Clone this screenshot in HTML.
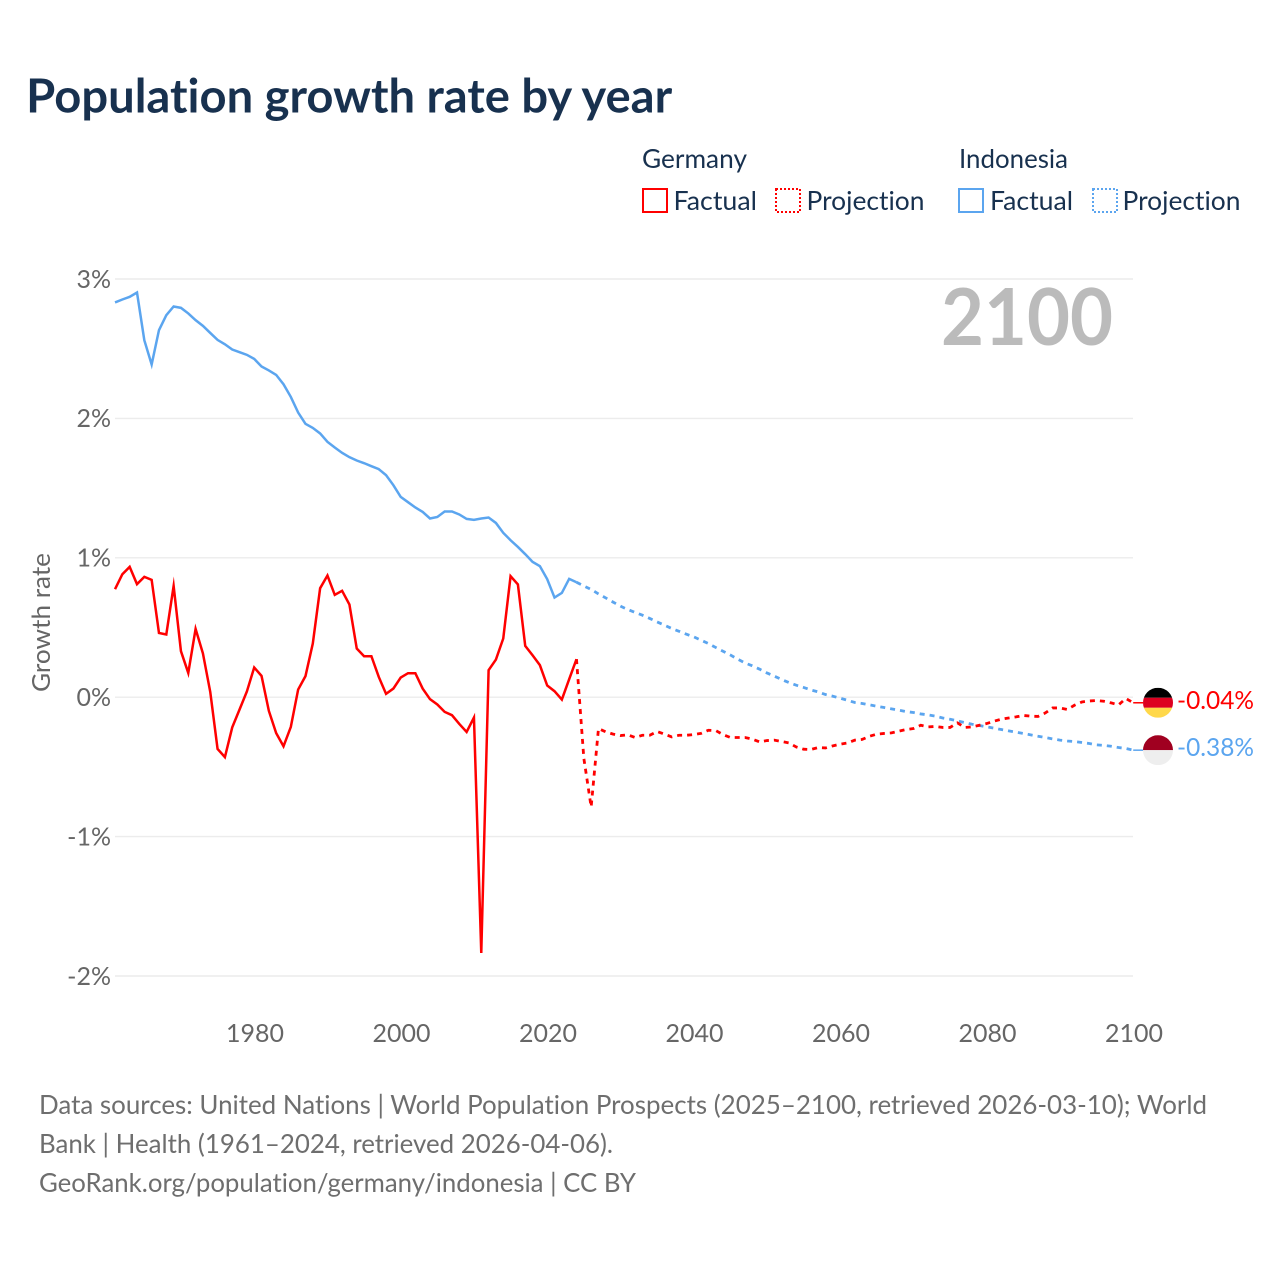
<!DOCTYPE html>
<html lang="en">
<head>
<meta charset="utf-8">
<title>Population growth rate by year</title>
<style>
html,body{margin:0;padding:0;background:#fff;width:1280px;height:1280px;overflow:hidden}
svg{display:block}
text{font-family:"Lato","Carlito","Liberation Sans",sans-serif;font-variant-ligatures:none}
</style>
</head>
<body>
<svg id="chart" xmlns="http://www.w3.org/2000/svg" width="1280" height="1280" viewBox="0 0 1280 1280">
  <rect x="0" y="0" width="1280" height="1280" fill="#ffffff"/>
  <text x="26.2" y="112.5" font-size="47" font-weight="700" fill="#18314f" textLength="646" lengthAdjust="spacingAndGlyphs">Population growth rate by year</text>

  <g font-size="26" fill="#18314f">
    <text x="642" y="168" textLength="105" lengthAdjust="spacingAndGlyphs">Germany</text>
    <text x="959" y="168" textLength="109" lengthAdjust="spacingAndGlyphs">Indonesia</text>
    <rect x="643" y="189" width="24" height="23" fill="none" stroke="#ff0000" stroke-width="2"/>
    <text x="673.5" y="210" textLength="83.5" lengthAdjust="spacingAndGlyphs">Factual</text>
    <rect x="776" y="189" width="24" height="23" fill="none" stroke="#ff0000" stroke-width="2" stroke-dasharray="2 2"/>
    <text x="806.5" y="210" textLength="118" lengthAdjust="spacingAndGlyphs">Projection</text>
    <rect x="959" y="189" width="24" height="23" fill="none" stroke="#5ba5ef" stroke-width="2"/>
    <text x="990" y="210" textLength="83" lengthAdjust="spacingAndGlyphs">Factual</text>
    <rect x="1093" y="189" width="24" height="23" fill="none" stroke="#5ba5ef" stroke-width="2" stroke-dasharray="2 2"/>
    <text x="1122.5" y="210" textLength="118" lengthAdjust="spacingAndGlyphs">Projection</text>
  </g>

  <g id="grid"></g>
  <text x="941" y="345" font-size="79" font-weight="700" fill="#bbbbbb" textLength="172" lengthAdjust="spacingAndGlyphs">2100</text>
  <g id="yticks"></g>
  <g id="xticks"></g>
  <text transform="translate(50 622.5) rotate(-90)" text-anchor="middle" font-size="25" fill="#666666" textLength="139" lengthAdjust="spacingAndGlyphs">Growth rate</text>
  <g id="series"></g>
  <defs>
    <clipPath id="clip-de"><circle id="clip-de-c" cx="1158" cy="702.5" r="15"/></clipPath>
    <clipPath id="clip-id"><circle id="clip-id-c" cx="1158" cy="749.7" r="15"/></clipPath>
  </defs>
  <g id="ends"></g>

  <g font-size="26.5" fill="#6e6e6e">
    <text x="39" y="1114" textLength="1168" lengthAdjust="spacingAndGlyphs">Data sources: United Nations | World Population Prospects (2025–2100, retrieved 2026-03-10); World</text>
    <text x="39" y="1153" textLength="574" lengthAdjust="spacingAndGlyphs">Bank | Health (1961–2024, retrieved 2026-04-06).</text>
    <text x="39" y="1192" textLength="597" lengthAdjust="spacingAndGlyphs">GeoRank.org/population/germany/indonesia | CC BY</text>
  </g>
</svg>
<script>
const factualStartYear = 1961;
const projectionStartYear = 2024;
const xTickYears = [1980, 2000, 2020, 2040, 2060, 2080, 2100];
const yTickValues = [3, 2, 1, 0, -1, -2];
const yTickLabels = ['3%', '2%', '1%', '0%', '-1%', '-2%'];
const germanyFactual = [0.775,0.882,0.935,0.811,0.863,0.842,0.461,0.450,0.798,0.330,0.174,0.490,0.314,0.038,-0.371,-0.430,-0.217,-0.088,0.041,0.213,0.153,-0.098,-0.258,-0.352,-0.213,0.055,0.151,0.385,0.782,0.873,0.734,0.763,0.665,0.349,0.294,0.294,0.146,0.024,0.062,0.141,0.172,0.172,0.062,-0.014,-0.052,-0.105,-0.129,-0.192,-0.249,-0.146,-1.835,0.194,0.270,0.421,0.868,0.809,0.368,0.301,0.230,0.084,0.043,-0.017,0.129,0.273];
const germanyProjection = [0.273,-0.438,-0.787,-0.225,-0.249,-0.265,-0.275,-0.270,-0.289,-0.273,-0.273,-0.246,-0.265,-0.285,-0.273,-0.273,-0.268,-0.260,-0.237,-0.239,-0.268,-0.289,-0.289,-0.289,-0.301,-0.321,-0.311,-0.308,-0.318,-0.328,-0.357,-0.373,-0.375,-0.361,-0.364,-0.349,-0.337,-0.328,-0.308,-0.303,-0.280,-0.265,-0.260,-0.256,-0.244,-0.232,-0.225,-0.201,-0.213,-0.210,-0.217,-0.217,-0.184,-0.217,-0.213,-0.201,-0.189,-0.172,-0.158,-0.149,-0.141,-0.131,-0.136,-0.138,-0.113,-0.077,-0.077,-0.088,-0.057,-0.034,-0.027,-0.024,-0.029,-0.041,-0.055,-0.009,-0.040];
const indonesiaFactual = [2.832,2.853,2.872,2.903,2.561,2.387,2.633,2.740,2.803,2.793,2.753,2.705,2.664,2.613,2.563,2.532,2.494,2.475,2.456,2.427,2.372,2.344,2.312,2.245,2.154,2.042,1.961,1.932,1.892,1.832,1.791,1.753,1.722,1.698,1.679,1.657,1.636,1.593,1.521,1.437,1.399,1.361,1.329,1.282,1.293,1.332,1.332,1.311,1.279,1.272,1.282,1.289,1.250,1.179,1.126,1.078,1.026,0.971,0.940,0.847,0.715,0.748,0.849,0.825];
const indonesiaProjection = [0.825,0.798,0.773,0.741,0.712,0.682,0.653,0.629,0.608,0.588,0.565,0.540,0.517,0.493,0.473,0.452,0.433,0.409,0.385,0.357,0.330,0.303,0.273,0.246,0.225,0.201,0.174,0.151,0.127,0.105,0.086,0.070,0.052,0.038,0.019,0.007,-0.007,-0.022,-0.038,-0.045,-0.055,-0.065,-0.074,-0.084,-0.093,-0.103,-0.110,-0.120,-0.127,-0.136,-0.149,-0.158,-0.170,-0.182,-0.194,-0.203,-0.213,-0.222,-0.232,-0.242,-0.251,-0.260,-0.270,-0.280,-0.289,-0.299,-0.308,-0.314,-0.318,-0.325,-0.332,-0.342,-0.346,-0.352,-0.361,-0.368,-0.380];

const NS = 'http://www.w3.org/2000/svg';
const RED = '#ff0000';
const BLUE = '#5ba5ef';
function xScale(year) { return 254.2 + (year - 1980) * 7.325; }
function yScale(v) { return 697.2 - v * 139.4; }
function mk(tag, attrs, parent) {
  const el = document.createElementNS(NS, tag);
  for (const k in attrs) el.setAttribute(k, attrs[k]);
  parent.appendChild(el);
  return el;
}
function pointsFor(values, startYear) {
  return values.map(function (v, i) {
    return xScale(startYear + i).toFixed(2) + ',' + yScale(v).toFixed(2);
  }).join(' ');
}
function fmtPct(v) { return v.toFixed(2) + '%'; }

const gridG = document.getElementById('grid');
const yG = document.getElementById('yticks');
const xG = document.getElementById('xticks');
const seriesG = document.getElementById('series');
const endsG = document.getElementById('ends');

yTickValues.forEach(function (v, i) {
  const line = mk('line', {x1: 115, x2: 1133, y1: yScale(v), y2: yScale(v), stroke: '#ececec', 'stroke-width': 1.4}, gridG);
  
  
  const t = mk('text', {x: 111, y: 697 - v * 139.4 + 9, 'text-anchor': 'end', 'font-size': 25, fill: '#666666'}, yG);
  
  
  t.textContent = yTickLabels[i];
});
xTickYears.forEach(function (year) {
  const t = mk('text', {x: xScale(year) + 0.8, y: 1042, 'text-anchor': 'middle', 'font-size': 25, fill: '#666666', textLength: 58, lengthAdjust: 'spacingAndGlyphs'}, xG);
  
  
  t.textContent = String(year);
});

const common = {fill: 'none', 'stroke-width': 2.5, 'stroke-linejoin': 'miter', 'stroke-miterlimit': 10};
function drawSeries(values, startYear, color, dashed) {
  const attrs = Object.assign({}, common, {points: pointsFor(values, startYear), stroke: color});
  if (dashed) {
    attrs['stroke-dasharray'] = '5 5';
    attrs['stroke-width'] = 2.8;
  }
  return mk('polyline', attrs, seriesG);
}
const l1 = drawSeries(indonesiaFactual, factualStartYear, BLUE, false);


const l2 = drawSeries(indonesiaProjection, projectionStartYear, BLUE, true);


const l3 = drawSeries(germanyFactual, factualStartYear, RED, false);


const l4 = drawSeries(germanyProjection, projectionStartYear, RED, true);



const deLast = germanyProjection[germanyProjection.length - 1];
const idLast = indonesiaProjection[indonesiaProjection.length - 1];
const deY = yScale(deLast);
const idY = yScale(idLast);
const xEnd = xScale(2100);

const deLead = mk('line', {x1: xEnd, x2: 1143, y1: deY, y2: deY, stroke: RED, 'stroke-width': 1.5}, endsG);


const idLead = mk('line', {x1: xEnd, x2: 1143, y1: idY, y2: idY, stroke: BLUE, 'stroke-width': 1.5}, endsG);



document.getElementById('clip-de-c').setAttribute('cy', deY);
document.getElementById('clip-id-c').setAttribute('cy', idY);

const deFlag = mk('g', {'clip-path': 'url(#clip-de)'}, endsG);


mk('rect', {x: 1143, y: deY - 15, width: 30, height: 10, fill: '#000000'}, deFlag);
mk('rect', {x: 1143, y: deY - 5, width: 30, height: 10, fill: '#dd0020'}, deFlag);
mk('rect', {x: 1143, y: deY + 5, width: 30, height: 10, fill: '#ffd84a'}, deFlag);

const idFlag = mk('g', {'clip-path': 'url(#clip-id)'}, endsG);


mk('rect', {x: 1143, y: idY - 15, width: 30, height: 15, fill: '#a00020'}, idFlag);
mk('rect', {x: 1143, y: idY, width: 30, height: 15, fill: '#eeeeee'}, idFlag);

const deLabel = mk('text', {x: 1177, y: deY + 6, 'font-size': 25, fill: RED, textLength: 77, lengthAdjust: 'spacingAndGlyphs'}, endsG);


deLabel.textContent = fmtPct(deLast);
const idLabel = mk('text', {x: 1177, y: idY + 6, 'font-size': 25, fill: BLUE, textLength: 77, lengthAdjust: 'spacingAndGlyphs'}, endsG);


idLabel.textContent = fmtPct(idLast);
</script>
</body>
</html>
